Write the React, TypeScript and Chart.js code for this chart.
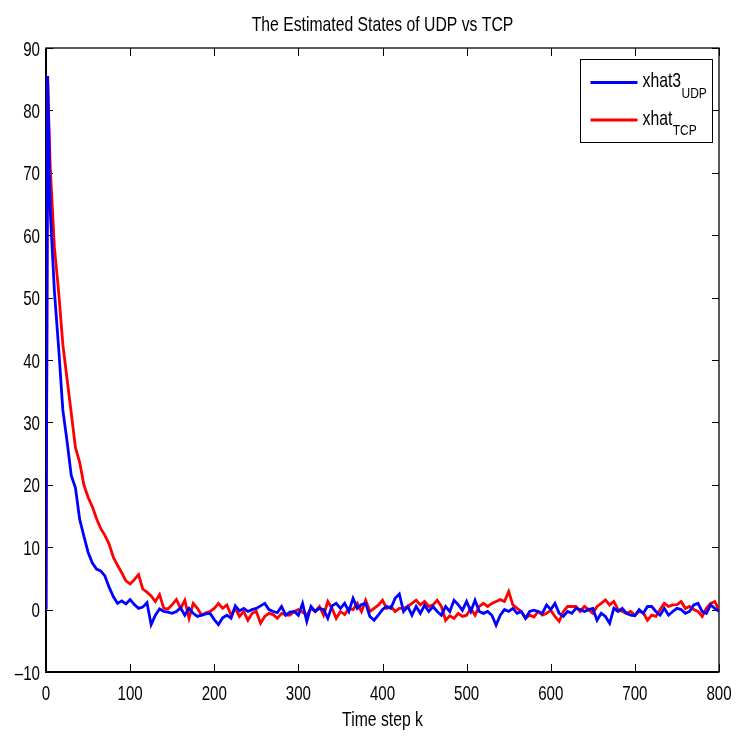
import React, { useEffect, useRef } from "react";
import { Chart, registerables } from "chart.js";

Chart.register(...registerables);

const TITLE = "The Estimated States of UDP vs TCP";
const X_LABEL = "Time step k";
const X_TICKS = [0, 100, 200, 300, 400, 500, 600, 700, 800];
const Y_TICKS = [-10, 0, 10, 20, 30, 40, 50, 60, 70, 80, 90];

// time steps: 0, 2, then every 5 steps
const STEP_K = [0, 2, ...Array.from({ length: 160 }, (_, i) => 5 * (i + 1))];

const UDP_VALUES = [
  0, 85.5,
  64, 51, 42, 32, 27, 21.5, 19.5, 14.5, 11.8, 9.2,
  7.5, 6.5, 6.2, 5.4, 3.6, 2.1, 1.0, 1.4, 0.9, 1.6,
  0.8, 0.2, 0.4, 1.1, -2.4, -0.9, 0.1, -0.3, -0.4, -0.6,
  -0.3, 0.3, -0.9, 0.2, -0.6, -1.1, -0.9, -0.7, -0.6, -1.6,
  -2.4, -1.3, -0.9, -1.4, 0.6, -0.2, 0.2, -0.3, 0.0, 0.2,
  0.6, 1.0, 0.0, -0.3, -0.5, 0.5, -0.9, -0.4, -0.3, -0.9,
  1.0, -1.9, 0.5, -0.3, 0.2, 0.0, -1.4, 0.6, 1.0, 0.2,
  1.0, -0.3, 1.8, 0.2, 0.8, 1.0, -1.1, -1.7, -0.9, 0.0,
  0.5, 0.2, 1.8, 2.5, -0.3, 0.5, -0.9, 0.5, -0.6, 0.7,
  -0.3, 0.5, -0.3, -0.9, 0.5, -0.3, 1.5, 0.8, -0.1, 1.3,
  -0.3, 1.5, -0.3, -0.6, -0.3, -0.9, -2.5, -0.9, 0.0, -0.3,
  0.2, -0.6, -0.3, -1.4, -0.3, -0.1, -0.3, -0.6, 0.75, 0.0,
  1.0, -0.6, -1.1, -0.3, -0.6, 0.2, 0.0, -0.3, 0.0, 0.2,
  -1.7, -0.6, -1.1, -2.2, 0.2, -0.3, 0.2, -0.6, -0.9, -1.0,
  0.0, -0.6, 0.5, 0.5, -0.3, -0.9, 0.2, -0.9, -0.3, 0.2,
  0.0, -0.6, -0.3, 0.75, 1.0, -0.3, -0.6, 0.75, 0.2, -0.3,
];

const TCP_VALUES = [
  0, 84.5,
  71, 58, 51, 42.5, 37, 31.5, 26, 23.6, 20, 18,
  16.5, 14.6, 13, 11.9, 10.5, 8.4, 7.1, 5.9, 4.6, 4.1,
  4.8, 5.6, 3.3, 2.8, 2.2, 1.3, 2.4, 0.2, 0.1, 0.8,
  1.6, 0.2, 1.5, -1.4, 1.0, 0.2, -0.9, -0.5, -0.3, 0.2,
  1.0, 0.2, 0.75, -0.9, 0.2, -1.1, -0.3, -1.7, -0.6, -0.3,
  -2.2, -1.1, -0.6, -0.8, -1.4, -0.6, -0.9, -0.9, -0.3, 0.0,
  -0.4, -0.9, 0.2, -0.3, 0.5, -0.9, 1.3, 0.2, -1.4, -0.3,
  -0.8, 0.2, 0.0, 1.0, -0.3, 1.5, -0.3, 0.2, 0.7, 1.5,
  0.2, 0.5, -0.3, 0.2, 0.2, 0.5, 1.0, 1.5, 0.75, 1.3,
  0.5, 0.75, 1.5, 0.5, -1.7, -1.0, -1.4, -0.6, -1.1, -0.9,
  0.2, -0.9, 0.5, 1.0, 0.5, 1.0, 1.3, 1.6, 1.3, 2.9,
  0.75, 0.2, -0.3, -1.4, -0.9, -1.2, -0.3, -0.9, -0.6, -0.1,
  -1.1, -1.9, -0.3, 0.5, 0.5, 0.5, -0.3, 0.5, 0.0, -0.6,
  0.5, 1.0, 1.55, 0.75, 1.3, 0.0, -0.3, -0.6, -0.3, -0.9,
  -0.3, -0.5, -1.7, -0.9, -1.1, 0.0, 1.0, 0.5, 0.75, 0.8,
  1.3, 0.2, 0.5, 0.0, -0.3, -1.1, 0.2, 1.0, 1.3, -0.1,
];

const SERIES_NAMES = ["xhat3", "xhat"];
const SERIES_SUBS = ["UDP", "TCP"];
const SERIES_COLORS = ["#0000ff", "#ff0000"];

const FONT = '"Liberation Sans", Arial, Helvetica, sans-serif';
const SQUEEZE = 0.75;

function drawText(
  ctx: CanvasRenderingContext2D,
  text: string,
  x: number,
  y: number,
  size: number,
  align: "left" | "center" | "right",
  squeeze: number = SQUEEZE
) {
  ctx.save();
  ctx.font = `${size}px ${FONT}`;
  ctx.textBaseline = "alphabetic";
  ctx.textAlign = align;
  ctx.translate(x, y);
  ctx.scale(squeeze, 1);
  ctx.fillText(text, 0, 0);
  ctx.restore();
}

function textWidth(ctx: CanvasRenderingContext2D, text: string, size: number, squeeze: number = SQUEEZE) {
  ctx.save();
  ctx.font = `${size}px ${FONT}`;
  const w = ctx.measureText(text).width * squeeze;
  ctx.restore();
  return w;
}

const fmtTick = (v: number) => String(v).replace("-", "\u2013");

const framePlugin = {
  id: "matlabFrame",
  beforeDatasetsDraw(chart: any) {
    const { ctx, chartArea: a, scales } = chart;
    ctx.save();
    ctx.strokeStyle = "#000";
    ctx.lineWidth = 1;
    const xl = 8;
    const yl = 7;
    ctx.beginPath();
    for (const v of X_TICKS) {
      const x = Math.round(scales.x.getPixelForValue(v)) + 0.5;
      ctx.moveTo(x, a.bottom);
      ctx.lineTo(x, a.bottom - xl);
      ctx.moveTo(x, a.top);
      ctx.lineTo(x, a.top + xl);
    }
    for (const v of Y_TICKS) {
      const y = Math.round(scales.y.getPixelForValue(v)) + 0.5;
      ctx.moveTo(a.left, y);
      ctx.lineTo(a.left + yl, y);
      ctx.moveTo(a.right, y);
      ctx.lineTo(a.right - yl, y);
    }
    ctx.stroke();
    ctx.lineWidth = 1.3;
    ctx.strokeRect(a.left, a.top, a.right - a.left, a.bottom - a.top);
    ctx.lineWidth = 2;
    ctx.beginPath();
    ctx.moveTo(a.left, a.top);
    ctx.lineTo(a.left, a.bottom);
    ctx.lineTo(a.right, a.bottom);
    ctx.stroke();

    // tick labels, axis title, chart title
    ctx.fillStyle = "#000";
    for (const v of X_TICKS) {
      const x = scales.x.getPixelForValue(v);
      drawText(ctx, fmtTick(v), x, a.bottom + 28, 21, "center", 0.72);
    }
    for (const v of Y_TICKS) {
      const y = scales.y.getPixelForValue(v);
      drawText(ctx, fmtTick(v), a.left - 6, y + 7.5, 21, "right", 0.72);
    }
    drawText(ctx, X_LABEL, (a.left + a.right) / 2, a.bottom + 54, 21, "center");
    drawText(ctx, TITLE, (a.left + a.right) / 2, 30.5, 21, "center");
    ctx.restore();
  },
  afterDatasetsDraw(chart: any) {
    const { ctx, chartArea: a } = chart;
    const bw = 132;
    const bh = 83;
    const bx = Math.round(a.right - 7 - bw) + 0.5;
    const by = Math.round(a.top + 11) + 0.5;
    ctx.save();
    ctx.fillStyle = "#fff";
    ctx.fillRect(bx, by, bw, bh);
    ctx.strokeStyle = "#000";
    ctx.lineWidth = 1;
    ctx.strokeRect(bx, by, bw, bh);
    const rows = [by + 23, by + 60.5];
    chart.data.datasets.forEach((ds: any, i: number) => {
      const ry = rows[i];
      ctx.strokeStyle = ds.borderColor;
      ctx.lineWidth = 2.8;
      ctx.beginPath();
      ctx.moveTo(bx + 10, ry);
      ctx.lineTo(bx + 57, ry);
      ctx.stroke();
      ctx.fillStyle = "#000";
      const main = SERIES_NAMES[i];
      drawText(ctx, main, bx + 62, ry + 4.5, 21, "left");
      const w = textWidth(ctx, main, 21);
      drawText(ctx, SERIES_SUBS[i], bx + 62 + w + 0.5, ry + 15, 15, "left", 0.8);
    });
    ctx.restore();
  },
};

export default function App() {
  const ref = useRef<HTMLCanvasElement | null>(null);
  useEffect(() => {
    if (!ref.current) return;
    const mk = (vals: number[]) => STEP_K.map((k, i) => ({ x: k, y: vals[i] }));
    const chart = new Chart(ref.current, {
      type: "line",
      data: {
        datasets: [
          {
            label: SERIES_NAMES[0] + "_" + SERIES_SUBS[0],
            data: mk(UDP_VALUES),
            borderColor: SERIES_COLORS[0],
            backgroundColor: SERIES_COLORS[0],
            borderWidth: 2.8,
            pointRadius: 0,
            tension: 0,
          },
          {
            label: SERIES_NAMES[1] + "_" + SERIES_SUBS[1],
            data: mk(TCP_VALUES),
            borderColor: SERIES_COLORS[1],
            backgroundColor: SERIES_COLORS[1],
            borderWidth: 2.8,
            pointRadius: 0,
            tension: 0,
          },
        ],
      },
      options: {
        animation: false,
        responsive: false,
        devicePixelRatio: 1,
        layout: { padding: { top: 48, right: 17, left: 0, bottom: 0 } },
        plugins: {
          legend: { display: false },
          title: { display: false },
          tooltip: { enabled: false },
        },
        scales: {
          x: {
            type: "linear",
            min: 0,
            max: 800,
            afterFit: (s: any) => {
              s.height = 64;
            },
            grid: { display: false },
            border: { display: false },
            ticks: { display: false },
          },
          y: {
            type: "linear",
            min: -10,
            max: 90,
            afterFit: (s: any) => {
              s.width = 46;
            },
            grid: { display: false },
            border: { display: false },
            ticks: { display: false },
          },
        },
      },
      plugins: [framePlugin],
    });
    return () => chart.destroy();
  }, []);
  return (
    <div style={{ position: "absolute", left: 0, top: 0, width: 736, height: 736, background: "#fff" }}>
      <canvas ref={ref} width={736} height={736} />
    </div>
  );
}
